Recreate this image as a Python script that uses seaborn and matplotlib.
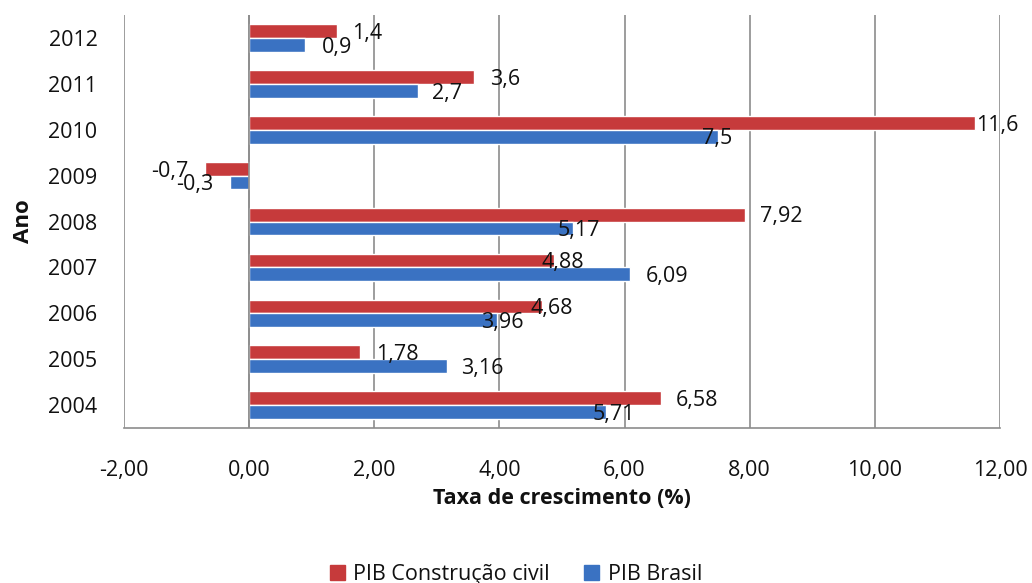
import matplotlib
matplotlib.use("Agg")
import matplotlib.pyplot as plt
from matplotlib.ticker import FuncFormatter, MultipleLocator
import seaborn as sns
import pandas as pd

# Annual growth rates (%)
anos = ["2012", "2011", "2010", "2009", "2008", "2007", "2006", "2005", "2004"]
pib_construcao = [1.4, 3.6, 11.6, -0.7, 7.92, 4.88, 4.68, 1.78, 6.58]
pib_brasil = [0.9, 2.7, 7.5, -0.3, 5.17, 6.09, 3.96, 3.16, 5.71]
rotulos_construcao = ["1,4", "3,6", "11,6", "-0,7", "7,92", "4,88", "4,68", "1,78", "6,58"]
rotulos_brasil = ["0,9", "2,7", "7,5", "-0,3", "5,17", "6,09", "3,96", "3,16", "5,71"]
series = ["PIB Construção civil", "PIB Brasil"]

# horizontal nudge (points) of each value label relative to the bar end
nudge_construcao = [11, 11, 1, -12, 11, -9, -8, 11, 11]
nudge_brasil = [12, 10, -12, -12, -11, 11, -11, 10, -10]

df = pd.DataFrame({
    "Ano": anos * 2,
    "Serie": [series[0]] * len(anos) + [series[1]] * len(anos),
    "Valor": pib_construcao + pib_brasil,
})

sns.set_theme(style="white")
plt.rcParams["font.family"] = ["Open Sans", "DejaVu Sans"]

cores = {series[0]: "#C63A3B", series[1]: "#3A72C2"}
texto = "#111111"

fig = plt.figure(figsize=(10.32, 5.83), dpi=100)
ax = fig.add_axes([0.120, 0.266, 0.849, 0.708])

sns.barplot(data=df, y="Ano", x="Valor", hue="Serie", order=anos,
            hue_order=series, palette=cores, orient="h", width=0.6,
            saturation=1, ax=ax, legend=False, zorder=3)

ax.set_xlim(-2, 12)
ax.set_ylim(8.5, -0.5)
ax.xaxis.set_major_locator(MultipleLocator(2))
ax.xaxis.set_major_formatter(FuncFormatter(lambda v, p: f"{v:.2f}".replace(".", ",")))
ax.grid(axis="x", color="#8C8C8C", linewidth=1.2, zorder=0)
ax.grid(axis="y", visible=False)
for s in ["top", "right", "left"]:
    ax.spines[s].set_visible(False)
ax.spines["bottom"].set_color("#8C8C8C")
ax.spines["bottom"].set_linewidth(1.2)
ax.axvline(0, color="#8C8C8C", linewidth=1.2, zorder=4)

ax.tick_params(axis="x", length=0, pad=23, labelsize=15.5, labelcolor=texto)
ax.tick_params(axis="y", length=0, pad=19, labelsize=15.5, labelcolor=texto)

ax.set_xlabel("Taxa de crescimento (%)", fontsize=15.5, fontweight="bold",
              labelpad=5, color=texto)
ax.set_ylabel("Ano", fontsize=16, fontweight="bold", labelpad=10, color=texto)

# value labels beside each bar
for i in range(len(anos)):
    for vals, rot, nud, off in ((pib_construcao, rotulos_construcao, nudge_construcao, -0.15),
                                (pib_brasil, rotulos_brasil, nudge_brasil, 0.15)):
        v = vals[i]
        ha = "right" if v < 0 else "left"
        ax.annotate(rot[i], xy=(v, i + off + 0.05), xytext=(nud[i], 0),
                    textcoords="offset points", ha=ha, va="center",
                    fontsize=15.5, color=texto, zorder=5, annotation_clip=False)

handles = [plt.Rectangle((0, 0), 1, 1, color=cores[s]) for s in series]
fig.legend(handles, series, loc="lower center", bbox_to_anchor=(0.5, -0.036),
           ncol=2, frameon=False, fontsize=15.5, handlelength=0.7,
           handleheight=0.7, handletextpad=0.4, columnspacing=1.6,
           labelcolor=texto)

fig.savefig("out.png", dpi=100)
